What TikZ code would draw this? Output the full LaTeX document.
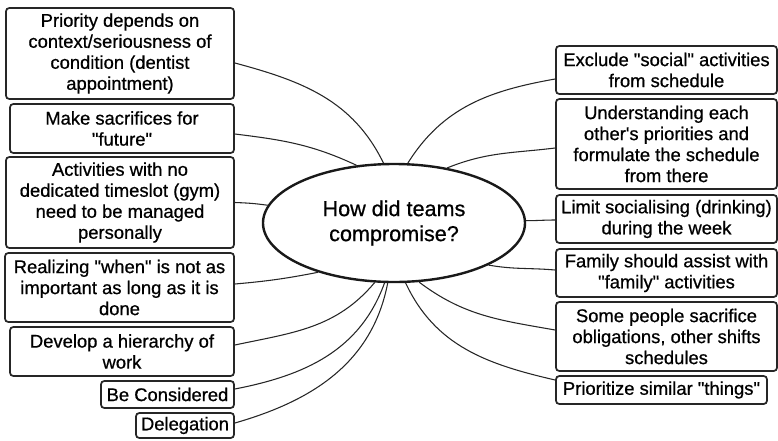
\documentclass[tikz,border=0pt]{standalone}
\usepackage{fontspec}
\newfontfamily\boxfont[FakeBold=0.7]{Liberation Sans}
\usetikzlibrary{shapes.geometric,calc}
\tikzset{
  idea/.style 2 args={draw=black!85, line width=1.3pt, rounded corners=2.5pt, align=center,
    inner sep=0pt, fill=white, minimum width=#1*0.75pt, minimum height=#2*0.75pt,
    font=\boxfont\fontsize{13.8}{15.75}\selectfont},
  hub/.style={draw=black!90, line width=1.8pt, ellipse, inner sep=0pt, align=center,
    minimum width=196.5pt, minimum height=88.5pt,
    font=\boxfont\fontsize{16.2}{18.75}\selectfont},
  link/.style={draw=black!85, line width=0.8pt},
}
\begin{document}
\begin{tikzpicture}[x=0.75pt,y=-0.75pt]
\useasboundingbox (0,0) rectangle (778,440);
% centre
\node[hub] (Q) at (394,223) {How did teams\\compromise?};
% left boxes
\node[idea={228}{91}] (L1) at (120,53.5) {Priority depends on\\context/seriousness of\\condition (dentist\\appointment)};
\node[idea={224}{49}] (L2) at (122,128.5) {Make sacrifices for\\"future"};
\node[idea={228}{91}] (L3) at (120,202.5) {Activities with no\\dedicated timeslot (gym)\\need to be managed\\personally};
\node[idea={229}{69}] (L4) at (119.5,287.5) {Realizing "when" is not as\\important as long as it is\\done};
\node[idea={224}{49}] (L5) at (122,351.5) {Develop a hierarchy of\\work};
\node[idea={133}{27}] (L6) at (167.5,394.5) {Be Considered};
\node[idea={98}{25}] (L7) at (185,425.5) {Delegation};
% right boxes
\node[idea={221}{48}] (R1) at (666.5,70) {Exclude "social" activities\\from schedule};
\node[idea={221}{90}] (R2) at (666.5,144) {Understanding each\\other's priorities and\\formulate the schedule\\from there};
\node[idea={221}{48}] (R3) at (666.5,219) {Limit socialising (drinking)\\during the week};
\node[idea={221}{48}] (R4) at (666.5,273) {Family should assist with\\"family" activities};
\node[idea={221}{69}] (R5) at (666.5,336.5) {Some people sacrifice\\obligations, other shifts\\schedules};
\node[idea={211}{28}] (R6) at (661.5,390) {Prioritize similar "things"};
% connectors left
\draw[link] ($(L1.east)+(0,9.5)$) to[out=-15,in=116] (Q.100);
\draw[link] ($(L2.east)+(0,5.5)$) to[out=-7,in=155] (Q.123);
\draw[link] (L3.east) to[out=-2,in=172] (Q.172);
\draw[link] ($(L4.east)+(0,-3.5)$) to[out=5,in=191] (Q.213);
\draw[link] ($(L5.east)+(0,-6.5)$) to[out=12,in=230] (Q.252);
\draw[link] ($(L6.east)+(0,-5.5)$) to[out=11,in=250] (Q.261);
\draw[link] ($(L7.east)+(0,-2.5)$) to[out=16,in=259] (Q.264);
% connectors right
\draw[link] (Q.77) to[out=58,in=190] ($(R1.west)+(0,9)$);
\draw[link] (Q.46) to[out=22,in=187] ($(R2.west)+(0,4)$);
\draw[link] (Q.1) to[out=0,in=180] ($(R3.west)+(0,1)$);
\draw[link] (Q.336) to[out=-10,in=175] ($(R4.west)+(0,-3)$);
\draw[link] (Q.293) to[out=-37,in=170] ($(R5.west)+(0,-6.5)$);
\draw[link] (Q.281) to[out=-65,in=167] ($(R6.west)+(0,-10)$);
\end{tikzpicture}
\end{document}
